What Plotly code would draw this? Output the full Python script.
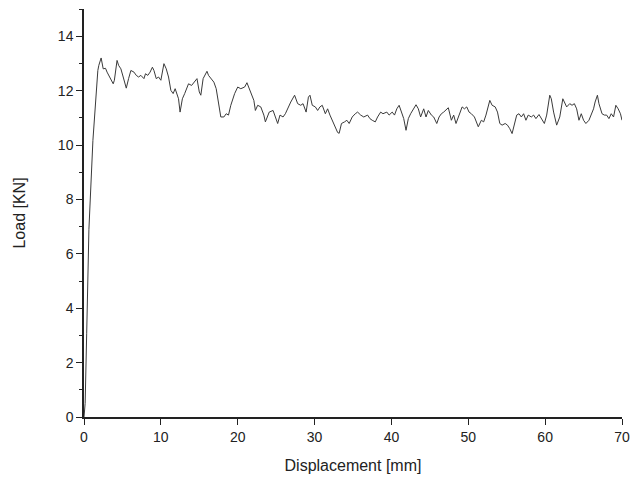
import plotly.graph_objects as go

displacement = [0, 0.15, 0.35, 0.52, 0.64, 1.16, 1.6, 1.8, 1.93, 2.23, 2.5, 2.8, 3.0, 3.4, 3.8, 3.95,
                4.3, 4.5, 4.8, 5.1, 5.5, 5.8, 6.1, 6.5, 6.8, 7.1, 7.4, 7.8, 8.0, 8.3, 8.6, 8.9,
                9.1, 9.4, 9.7, 10.0, 10.4, 10.7, 11.0, 11.3, 11.6, 11.86, 12.3, 12.5, 12.8, 13.1,
                13.6, 14.0, 14.4, 14.7, 15.0, 15.2, 15.5, 16.0, 16.2, 16.6, 16.9, 17.2, 17.6, 17.8,
                18.2, 18.5, 18.8, 19.1, 19.6, 20.0, 20.4, 20.9, 21.2, 21.5, 21.8, 22.1, 22.3, 22.6,
                23.0, 23.4, 23.6, 24.1, 24.6, 24.9, 25.2, 25.5, 25.9, 26.2, 26.6, 26.9, 27.4, 27.8,
                28.2, 28.5, 28.9, 29.2, 29.4, 29.7, 30.1, 30.4, 30.7, 31.0, 31.4, 31.7, 32.0, 32.3,
                32.7, 33.0, 33.2, 33.5, 33.9, 34.2, 34.5, 34.9, 35.3, 35.6, 36.0, 36.4, 36.9, 37.2,
                37.5, 37.9, 38.2, 38.6, 38.9, 39.4, 39.7, 40.1, 40.4, 40.7, 41.0, 41.3, 41.6, 41.9,
                42.2, 42.5, 42.9, 43.2, 43.5, 43.8, 44.2, 44.5, 44.8, 45.2, 45.5, 45.9, 46.2, 46.5,
                46.8, 47.2, 47.4, 47.8, 48.1, 48.4, 48.7, 49.2, 49.5, 49.8, 50.1, 50.4, 50.8, 51.1,
                51.3, 51.7, 52.0, 52.3, 52.5, 52.8, 53.1, 53.5, 53.8, 54.1, 54.4, 54.8, 55.1, 55.4,
                55.7, 56.0, 56.3, 56.6, 56.9, 57.2, 57.5, 57.8, 58.2, 58.5, 58.8, 59.2, 59.6, 59.9,
                60.2, 60.6, 60.8, 61.1, 61.5, 61.9, 62.3, 62.5, 62.8, 63.2, 63.5, 63.8, 64.1, 64.4,
                64.7, 65.0, 65.3, 65.7, 66.0, 66.3, 66.5, 66.8, 67.0, 67.4, 67.7, 68.0, 68.3, 68.6,
                68.9, 69.2, 69.5, 69.8, 70.0]

load = [0, 0.5, 3.08, 5.77, 6.9, 10.17, 12.0, 12.74, 12.93, 13.2, 12.8, 12.82, 12.68, 12.44, 12.25, 12.38,
        13.11, 12.93, 12.8, 12.5, 12.09, 12.44, 12.74, 12.68, 12.56, 12.5, 12.56, 12.44, 12.62, 12.56, 12.68, 12.86,
        12.74, 12.44, 12.5, 12.38, 12.99, 12.8, 12.5, 12.01, 11.89, 12.07, 11.7, 11.21, 11.7, 11.89,
        12.25, 12.19, 12.31, 12.44, 11.95, 11.83, 12.44, 12.71, 12.56, 12.44, 12.31, 12.07, 11.46, 11.03,
        11.03, 11.15, 11.1, 11.46, 11.89, 12.13, 12.07, 12.13, 12.29, 12.07, 11.89, 11.64, 11.27, 11.46,
        11.4, 11.1, 10.85, 11.21, 11.27, 11.03, 10.79, 11.1, 11.03, 11.15, 11.4, 11.58, 11.83, 11.52,
        11.46, 11.52, 11.21, 11.76, 11.83, 11.46, 11.4, 11.27, 11.4, 11.46, 11.15, 11.33, 11.1, 10.91,
        10.6, 10.46, 10.43, 10.79, 10.85, 10.91, 10.79, 11.03, 11.15, 11.21, 11.1, 11.03, 11.1, 10.97,
        10.91, 10.85, 11.03, 11.21, 11.15, 11.21, 11.1, 11.21, 11.1, 11.33, 11.46, 11.21, 10.97, 10.54,
        10.97, 11.15, 11.33, 11.48, 11.33, 11.03, 11.33, 11.03, 11.27, 11.1, 11.03, 10.79, 11.03, 11.15,
        11.21, 11.33, 11.37, 10.91, 11.1, 10.79, 11.03, 11.4, 11.33, 11.4, 11.21, 11.15, 11.03, 10.79,
        10.67, 10.91, 10.85, 11.1, 11.33, 11.64, 11.46, 11.4, 11.21, 10.79, 10.73, 10.79, 10.73, 10.6,
        10.42, 10.73, 11.1, 11.15, 11.03, 11.15, 10.91, 11.1, 11.03, 11.1, 10.97, 11.12, 10.91, 10.79,
        11.1, 11.83, 11.7, 11.21, 10.73, 11.03, 11.7, 11.58, 11.4, 11.52, 11.46, 11.52, 11.33, 10.91,
        11.15, 10.91, 10.79, 10.91, 11.1, 11.33, 11.58, 11.83, 11.52, 11.15, 11.1, 11.1, 10.97, 11.15,
        11.03, 11.46, 11.33, 11.15, 10.91]

x_ticks = [0, 10, 20, 30, 40, 50, 60, 70]
y_ticks = [0, 2, 4, 6, 8, 10, 12, 14]

fig = go.Figure()
fig.add_trace(go.Scatter(x=displacement, y=load, mode="lines",
                         line=dict(color="#3a3a3a", width=1), showlegend=False))

axis_font = dict(family="Liberation Sans, Arial, sans-serif", size=14, color="#222")
fig.update_layout(
    width=639, height=487,
    margin=dict(l=84, r=12, t=9, b=70),
    paper_bgcolor="white", plot_bgcolor="white",
    font=axis_font,
    xaxis=dict(range=[0, 70], tickvals=x_ticks, ticks="outside", ticklen=6, tickwidth=1.2,
               tickcolor="#222", showline=True, linecolor="#222", linewidth=1.5,
               showgrid=False, zeroline=False,
               title=dict(text="Displacement [mm]", font=dict(size=16), standoff=16)),
    yaxis=dict(range=[0, 15], tickvals=y_ticks, ticks="outside", ticklen=6, tickwidth=1.2,
               tickcolor="#222", showline=True, linecolor="#222", linewidth=1.5,
               showgrid=False, zeroline=False,
               minor=dict(tickvals=[1, 3, 5, 7, 9, 11, 13, 15], ticks="outside", ticklen=3,
                          tickcolor="#222", showgrid=False),
               title=dict(text="Load [KN]", font=dict(size=16), standoff=28)),
)

fig.write_html("out.html")
